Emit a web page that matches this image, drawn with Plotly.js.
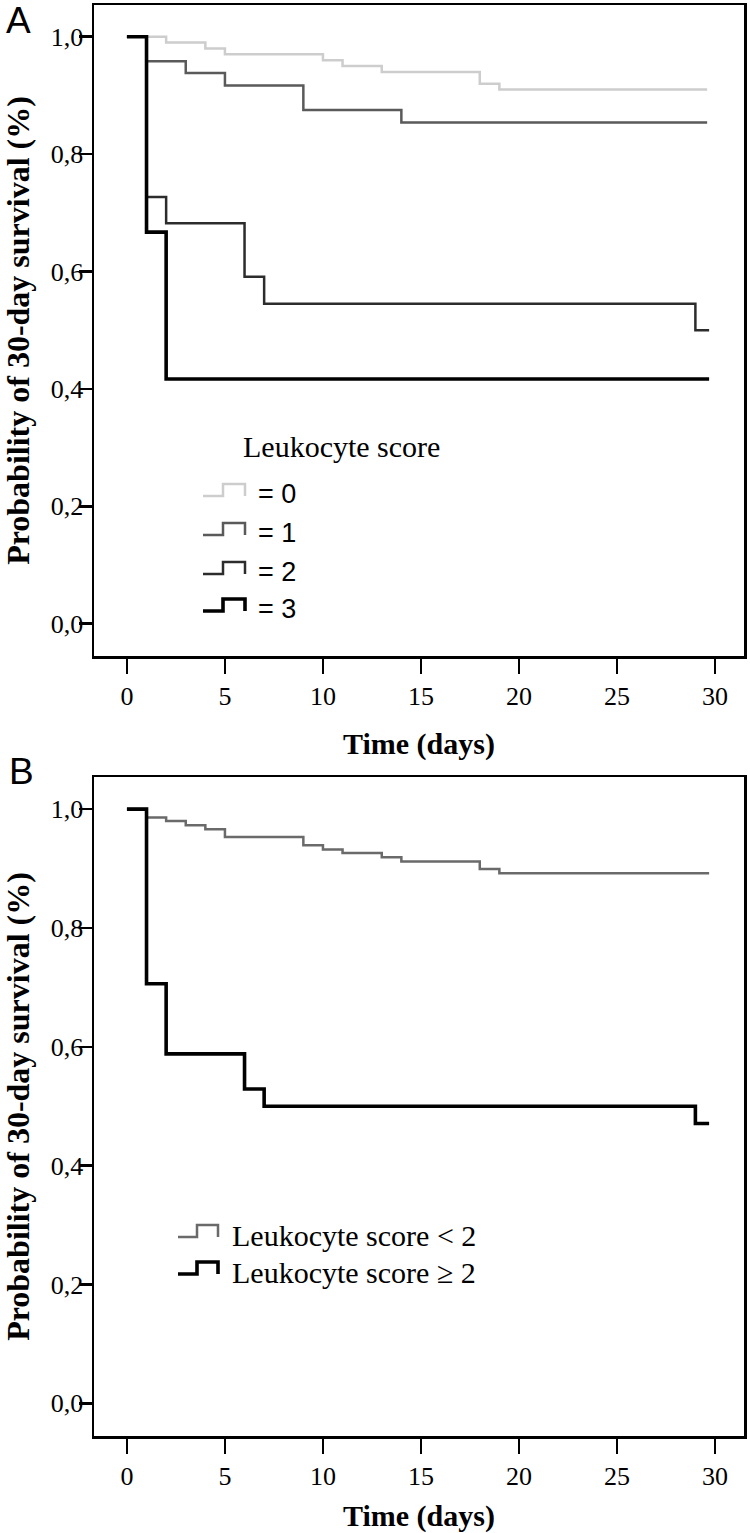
<!DOCTYPE html>
<html><head><meta charset="utf-8">
<script src="https://cdn.plot.ly/plotly-3.0.1.min.js"></script>
<style>body{margin:0;background:#fff}#chart{width:750px;height:1533px}</style>
</head><body><div id="chart"></div>
<script>
// ---- Panel A: 30-day survival by leukocyte score ----
const timeScore0 = [0, 2, 4, 5, 10, 11, 13, 18, 19, 29.6];
const survScore0 = [1, 0.99, 0.98, 0.97, 0.96, 0.95, 0.94, 0.92, 0.91, 0.91];
const timeScore1 = [0, 1, 3, 5, 9, 14, 29.6];
const survScore1 = [1, 0.958, 0.938, 0.917, 0.875, 0.854, 0.854];
const timeScore2 = [0, 1, 2, 6, 7, 29, 29.7];
const survScore2 = [1, 0.727, 0.682, 0.591, 0.545, 0.5, 0.5];
const timeScore3 = [0, 1, 2, 29.7];
const survScore3 = [1, 0.667, 0.417, 0.417];
// ---- Panel B: leukocyte score < 2 vs >= 2 ----
const timeLow = [0, 1, 2, 3, 4, 5, 9, 10, 11, 13, 14, 18, 19, 29.7];
const survLow = [1, 0.986, 0.980, 0.973, 0.966, 0.953, 0.939, 0.932, 0.926, 0.919, 0.912, 0.899, 0.892, 0.892];
const timeHigh = [0, 1, 2, 6, 7, 29, 29.7];
const survHigh = [1, 0.706, 0.588, 0.529, 0.5, 0.471, 0.471];

const panelLabels = ['A', 'B'];
const legendTitleA = 'Leukocyte score';
const legendLabelsA = ['= 0', '= 1', '= 2', '= 3'];
const legendLabelsB = ['Leukocyte score < 2', 'Leukocyte score ≥ 2'];
const xTickVals = [0, 5, 10, 15, 20, 25, 30];
const yTickVals = [0, 0.2, 0.4, 0.6, 0.8, 1.0];
const xTitle = 'Time (days)';
const yTitle = 'Probability of 30-day survival (%)';

// styles
const W = 750, H = 1533;
const colA = ['#cdcdcd', '#5a5a5a', '#2c2c2c', '#000000'];
const widA = [2.5, 2.5, 2.5, 3.6];
const colB = ['#6a6a6a', '#000000'];
const widB = [2.5, 3.6];
const px = v => v / W;
const py = v => 1 - v / H;

function step(x, y, color, width, name, xa, ya) {
  return {x: x, y: y, type: 'scatter', mode: 'lines', line: {shape: 'hv', color: color, width: width},
          name: name, xaxis: xa, yaxis: ya, showlegend: false, hoverinfo: 'skip'};
}

const traces = [
  step(timeScore0, survScore0, colA[0], widA[0], legendLabelsA[0], 'x', 'y'),
  step(timeScore1, survScore1, colA[1], widA[1], legendLabelsA[1], 'x', 'y'),
  step(timeScore2, survScore2, colA[2], widA[2], legendLabelsA[2], 'x', 'y'),
  step(timeScore3, survScore3, colA[3], widA[3], legendLabelsA[3], 'x', 'y'),
  step(timeLow, survLow, colB[0], widB[0], legendLabelsB[0], 'x2', 'y2'),
  step(timeHigh, survHigh, colB[1], widB[1], legendLabelsB[1], 'x2', 'y2')
];

const serif = 'Liberation Serif';
const sans = 'Liberation Sans';

function xAxis(anchor, standoff) {
  return {
    domain: [px(94), px(744)], range: [-1.68, 31.48], anchor: anchor,
    tickmode: 'array', tickvals: xTickVals, ticks: 'outside', ticklen: 15, tickwidth: 2.5, tickcolor: '#000',
    showline: true, linewidth: 2.5, linecolor: '#000', mirror: true, showgrid: false, zeroline: false,
    tickfont: {family: serif, size: 26, color: '#000'},
    title: {text: xTitle, standoff: standoff, font: {family: serif, size: 30, color: '#000', weight: 'bold'}},
    fixedrange: true
  };
}
function yAxis(anchor, top, bottom) {
  return {
    domain: [py(bottom), py(top)], range: [-0.055, 1.054], anchor: anchor,
    tickmode: 'array', tickvals: yTickVals, tickformat: '.1f', ticks: 'outside', ticklen: 13, tickwidth: 2.5, tickcolor: '#000',
    ticklabelstandoff: -10,
    showline: true, linewidth: 2.5, linecolor: '#000', mirror: true, showgrid: false, zeroline: false,
    tickfont: {family: serif, size: 26, color: '#000'},
    title: {text: yTitle, standoff: 20, font: {family: serif, size: 32, color: '#000', weight: 'bold'}},
    fixedrange: true
  };
}

const annotations = [];
const shapes = [];
// panel letters
annotations.push({text: panelLabels[0], xref: 'paper', yref: 'paper', x: px(4), y: py(20), xanchor: 'left', yanchor: 'middle', showarrow: false, font: {family: sans, size: 37, color: '#000'}});
annotations.push({text: panelLabels[1], xref: 'paper', yref: 'paper', x: px(7), y: py(771), xanchor: 'left', yanchor: 'middle', showarrow: false, font: {family: sans, size: 37, color: '#000'}});

// legend A
annotations.push({text: legendTitleA, xref: 'paper', yref: 'paper', x: px(241), y: py(447), xanchor: 'left', yanchor: 'middle', showarrow: false, font: {family: serif, size: 30, color: '#000'}});
const rowsA = [494, 533, 572, 609];
function stepSymbol(x0, xm, x1, yc, color, width) {
  const low = yc + 2, top = yc - 10;
  return {type: 'path', xref: 'paper', yref: 'paper',
    path: `M ${px(x0)},${py(low)} L ${px(xm)},${py(low)} L ${px(xm)},${py(top)} L ${px(x1)},${py(top)} L ${px(x1)},${py(low)}`,
    line: {color: color, width: width}};
}
legendLabelsA.forEach((t, i) => {
  annotations.push({text: t, xref: 'paper', yref: 'paper', x: px(256), y: py(rowsA[i]), xanchor: 'left', yanchor: 'middle', showarrow: false, font: {family: sans, size: 27, color: '#000'}});
  shapes.push(stepSymbol(203, 223, 245, rowsA[i], colA[i], widA[i]));
});
// legend B
const rowsB = [1235, 1272];
legendLabelsB.forEach((t, i) => {
  annotations.push({text: t, xref: 'paper', yref: 'paper', x: px(230), y: py(rowsB[i]), xanchor: 'left', yanchor: 'middle', showarrow: false, font: {family: serif, size: 30, color: '#000'}});
  shapes.push(stepSymbol(178, 197, 218, rowsB[i], colB[i], widB[i]));
});

const layout = {
  width: W, height: H, margin: {l: 0, r: 0, t: 0, b: 0},
  paper_bgcolor: '#fff', plot_bgcolor: '#fff', separators: ',.', showlegend: false,
  xaxis: xAxis('y', 24), yaxis: yAxis('x', 5, 656),
  xaxis2: xAxis('y2', 17), yaxis2: yAxis('x2', 777, 1436),
  annotations: annotations, shapes: shapes
};

Plotly.newPlot('chart', traces, layout, {displayModeBar: false, staticPlot: true});
</script>
</body></html>
